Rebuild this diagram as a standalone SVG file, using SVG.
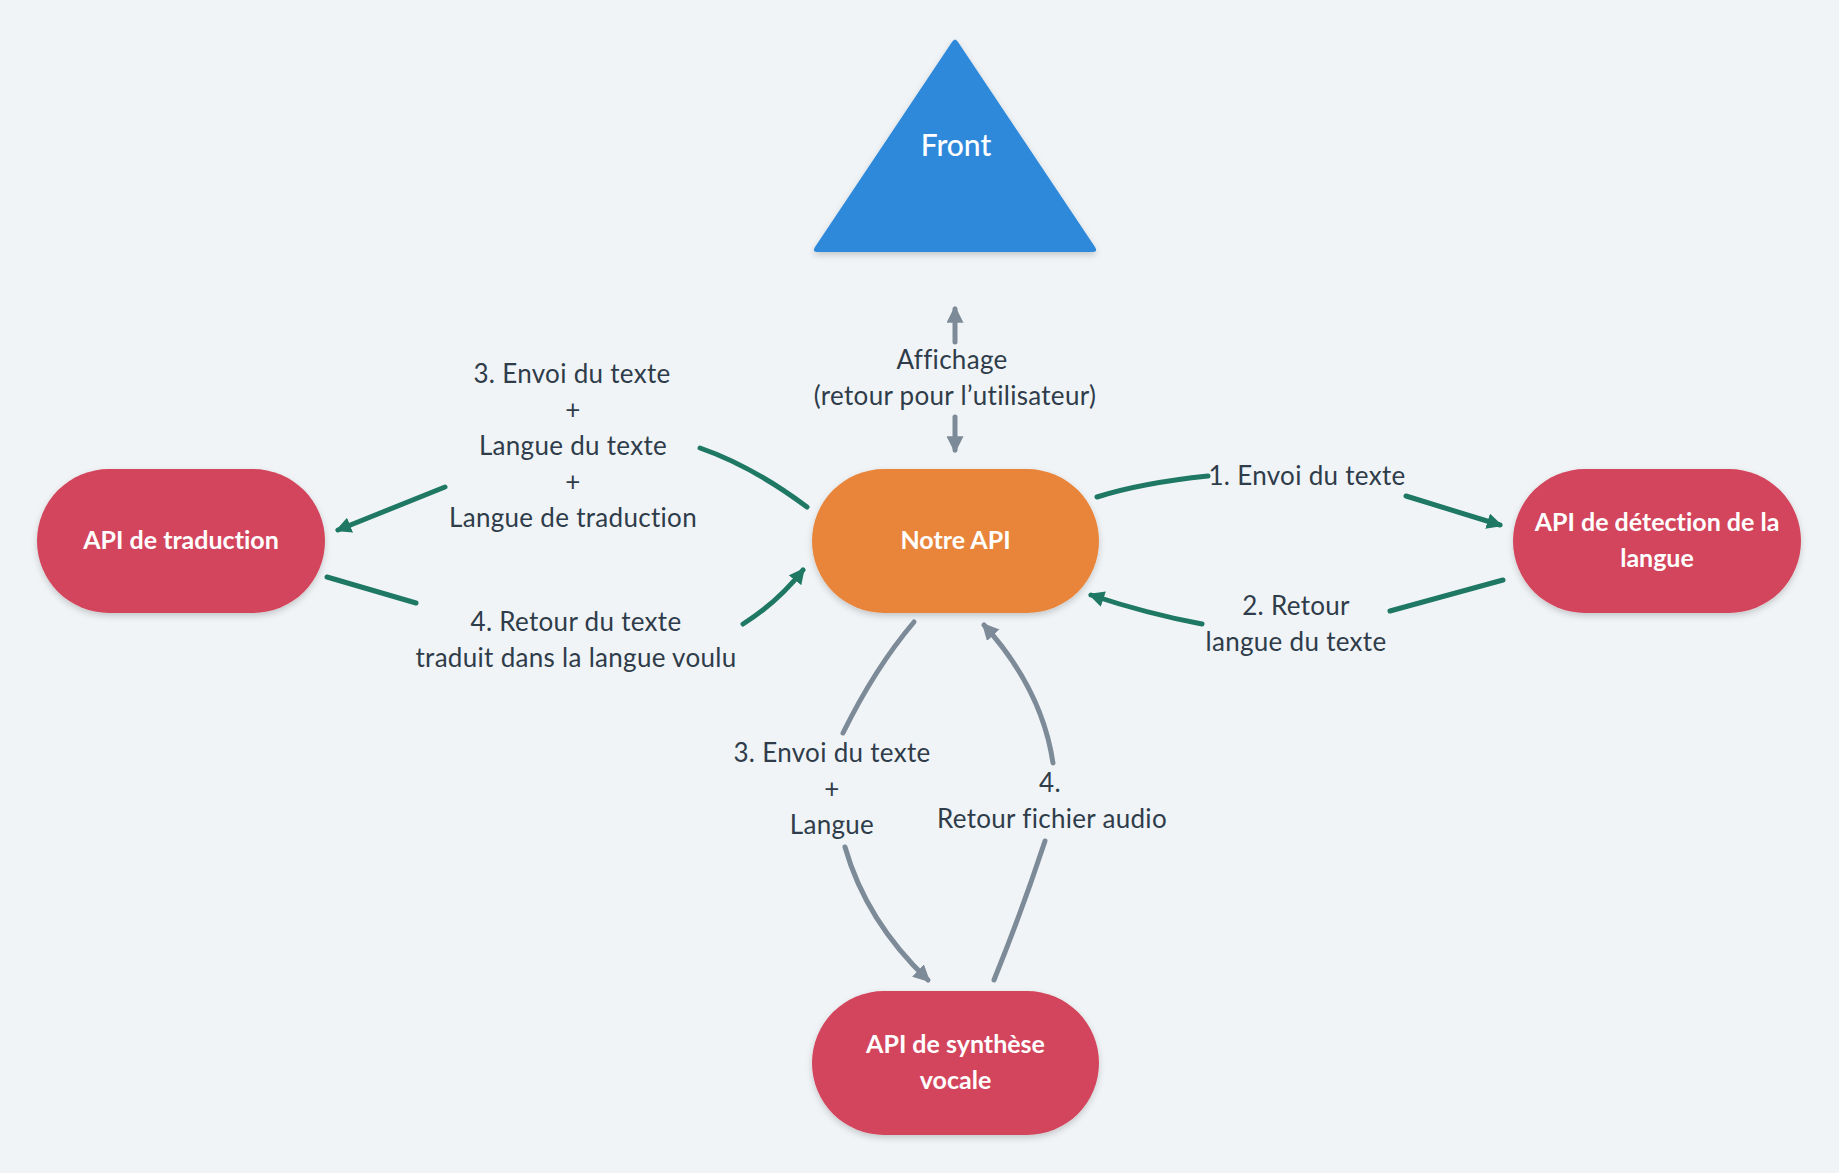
<svg xmlns="http://www.w3.org/2000/svg" width="1839" height="1173" viewBox="0 0 1839 1173">
<style>
text{font-variant-ligatures:none;font-feature-settings:"liga" 0,"clig" 0}
.node-text{font-family:Lato,"Noto Sans",sans-serif;font-weight:bold;font-size:25px;fill:#ffffff;text-anchor:middle}
.label{font-family:Lato,"Noto Sans",sans-serif;font-size:26px;letter-spacing:0.3px;fill:#2f3c4a;text-anchor:middle}
.green{fill:none;stroke:#1e7864;stroke-width:5;stroke-linecap:round}
.grey{fill:none;stroke:#7d8a98;stroke-width:5;stroke-linecap:round}
</style>
<defs>
<filter id="sh" x="-10%" y="-10%" width="120%" height="130%">
<feDropShadow dx="0" dy="3" stdDeviation="3" flood-color="#000000" flood-opacity="0.18"/>
</filter>
<marker id="ag" markerUnits="userSpaceOnUse" viewBox="0 0 16 16" markerWidth="16" markerHeight="16" refX="13" refY="8" orient="auto">
<path d="M0,0 L16,8 L0,16 Z" fill="#1e7864"/>
</marker>
<marker id="ay" markerUnits="userSpaceOnUse" viewBox="0 0 16 16" markerWidth="17" markerHeight="17" refX="13" refY="8" orient="auto">
<path d="M0,0 L16,8 L0,16 Z" fill="#7d8a98"/>
</marker>
</defs>
<rect x="0" y="0" width="1839" height="1173" fill="#f0f4f7"/>

<g id="connectors">
<path class="grey" d="M955,342 L955,309" marker-end="url(#ay)"/>
<path class="grey" d="M955,417 L955,450" marker-end="url(#ay)"/>
<path class="green" d="M807,507 Q752,466 700,448"/>
<path class="green" d="M445,487 L338,530" marker-end="url(#ag)"/>
<path class="green" d="M327,577 L416,603"/>
<path class="green" d="M743,624 Q778,602 803,570" marker-end="url(#ag)"/>
<path class="green" d="M1097,497 Q1141,483 1208,476"/>
<path class="green" d="M1406,496 L1500,525" marker-end="url(#ag)"/>
<path class="green" d="M1503,580 L1390,611"/>
<path class="green" d="M1202,624 Q1148,614 1091,595" marker-end="url(#ag)"/>
<path class="grey" d="M914,622 Q875,668 843,733"/>
<path class="grey" d="M845,847 Q866,921 928,980" marker-end="url(#ay)"/>
<path class="grey" d="M994,980 Q1022,911 1045,841"/>
<path class="grey" d="M1053,763 Q1042,689 984,625" marker-end="url(#ay)"/>
</g>

<g id="labels">
<text class="label" x="952" y="369">Affichage</text>
<text class="label" x="955" y="405">(retour pour l’utilisateur)</text>
<text class="label" x="572" y="383">3. Envoi du texte</text>
<text class="label" x="573" y="419">+</text>
<text class="label" x="573" y="455">Langue du texte</text>
<text class="label" x="573" y="491">+</text>
<text class="label" x="573" y="527">Langue de traduction</text>
<text class="label" x="576" y="631">4. Retour du texte</text>
<text class="label" x="576" y="667">traduit dans la langue voulu</text>
<text class="label" x="1307" y="485">1. Envoi du texte</text>
<text class="label" x="1296" y="615">2. Retour</text>
<text class="label" x="1296" y="651">langue du texte</text>
<text class="label" x="832" y="762">3. Envoi du texte</text>
<text class="label" x="832" y="798">+</text>
<text class="label" x="832" y="834">Langue</text>
<text class="label" x="1050" y="792">4.</text>
<text class="label" x="1052" y="828">Retour fichier audio</text>
</g>

<g id="front">
<path d="M952,42 Q955,37 958,42 L1095,247 Q1098,252 1093,252 L817,252 Q812,252 815,247 Z" fill="#2d89db" filter="url(#sh)"/>
<text class="node-text" x="956" y="156" style="font-weight:500;font-size:30px">Front</text>
</g>

<g id="notre-api">
<rect x="812" y="469" width="287" height="144" rx="72" fill="#e8853a" filter="url(#sh)"/>
<text class="node-text" x="955.5" y="549">Notre API</text>
</g>

<g id="api-traduction">
<rect x="37" y="469" width="288" height="144" rx="72" fill="#d3455b" filter="url(#sh)"/>
<text class="node-text" x="181" y="549">API de traduction</text>
</g>

<g id="api-detection">
<rect x="1513" y="469" width="288" height="144" rx="72" fill="#d3455b" filter="url(#sh)"/>
<text class="node-text" x="1657" y="531">API de détection de la</text>
<text class="node-text" x="1657" y="567">langue</text>
</g>

<g id="api-synthese">
<rect x="812" y="991" width="287" height="144" rx="72" fill="#d3455b" filter="url(#sh)"/>
<text class="node-text" x="955.5" y="1053">API de synthèse</text>
<text class="node-text" x="955.5" y="1089">vocale</text>
</g>
</svg>
